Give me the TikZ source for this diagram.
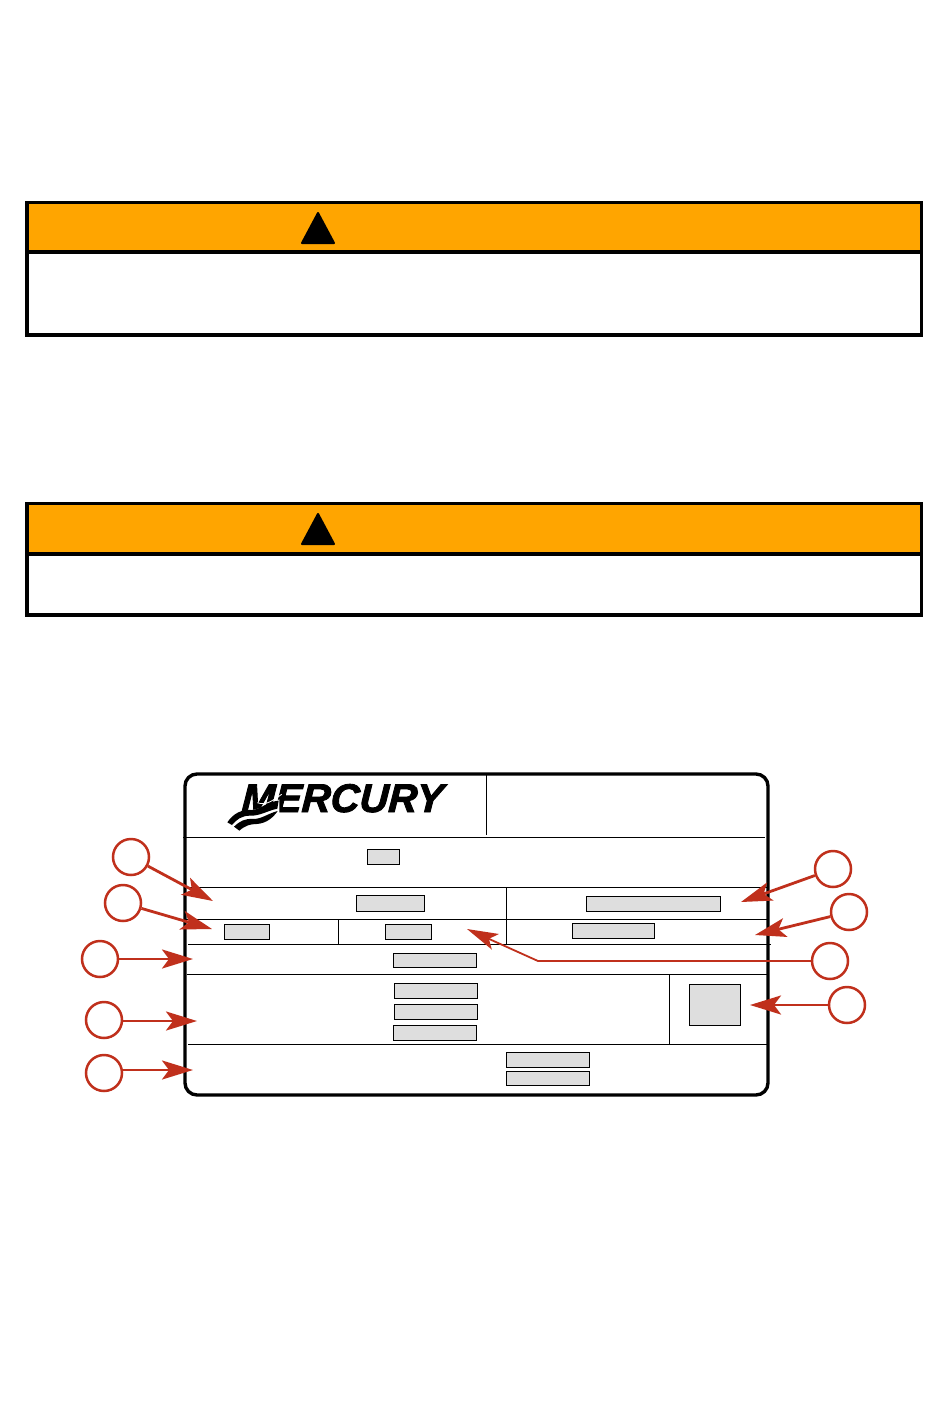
\documentclass[tikz,border=0pt]{standalone}
\usepackage{fontspec}
\setmainfont{Liberation Sans}[BoldItalicFeatures={FakeBold=2.2,FakeSlant=0.06}]
\usetikzlibrary{arrows.meta}
\definecolor{warnorange}{HTML}{FFA500}
\definecolor{callred}{HTML}{C0301C}
\definecolor{fieldgray}{HTML}{DEDEDE}
\tikzset{
  warnbox/.style={draw=black,line width=3.2pt,line join=miter},
  warnhead/.style={fill=warnorange},
  warntri/.style={fill=black,draw=black,line width=2pt,line join=round},
  frame/.style={draw=black,line width=3.4pt,rounded corners=12pt},
  rule/.style={draw=black,line width=1pt},
  field/.style={draw=black,fill=fieldgray,line width=0.8pt,inner sep=0pt,rectangle},
  callout/.style={circle,draw=callred,line width=2.5pt,minimum size=36pt,inner sep=0pt,fill=none},
  pointer/.style={draw=callred,line width=2.8pt,-{Stealth[length=31pt,width=19pt,inset=7pt,fill=callred]}},
  thinpointer/.style={draw=callred,line width=1.8pt,line join=round,-{Stealth[length=31pt,width=17pt,inset=7pt,fill=callred]}}
}
\newcommand{\fieldbox}[5]{\node[field,minimum width=#4pt,minimum height=#5pt] (#1) at (#2,#3) {};}
\begin{document}
\begin{tikzpicture}[x=1pt,y=-1pt]
\useasboundingbox (0,0) rectangle (950,1402);
\fill[white] (0,0) rectangle (950,1402);

% warning boxes
\fill[warnhead] (27,202) rectangle (922,252);
\draw[warnbox] (27,202.5) rectangle (921.5,335);
\draw[warnbox] (27,252) -- (921.5,252);
\draw[warntri] (318,213) -- (334,243) -- (302,243) -- cycle;

\fill[warnhead] (27,503) rectangle (922,554);
\draw[warnbox] (27,503.5) rectangle (921.5,615);
\draw[warnbox] (27,554) -- (921.5,554);
\draw[warntri] (318,514) -- (334,544) -- (302,544) -- cycle;

% plate
\draw[frame] (185,774) rectangle (768,1095);
\draw[rule] (486.5,775) -- (486.5,835);
\draw[rule] (183,837) -- (765,837);
\draw[rule] (186,887.5) -- (768,887.5);
\draw[rule] (186,919.5) -- (768,919.5);
\draw[rule] (188,944.5) -- (771,944.5);
\draw[rule] (187,974.5) -- (768,974.5);
\draw[rule] (188,1044.5) -- (767,1044.5);
\draw[rule] (506.5,888) -- (506.5,944);
\draw[rule] (338.5,920) -- (338.5,944);
\draw[rule] (669.5,975) -- (669.5,1044);

% logo
\node[anchor=base west,inner sep=0pt,font=\fontsize{40}{40}\selectfont\bfseries\itshape] (logo) at (241,812) {MERCURY};
\begin{scope}[shift={(170,760)},scale=1/3]
  \fill[white] (165,190) .. controls (200,145) and (250,165) .. (328,118) -- (328,165) .. controls (280,200) and (240,200) .. (205,222) -- cycle;
  \fill[black] (172,187) .. controls (190,160) and (215,148) .. (245,150) .. controls (270,150) and (290,125) .. (326,122) -- (322,146) .. controls (290,153) and (270,168) .. (240,167) .. controls (215,167) and (200,178) .. (186,195) -- cycle;
  \fill[black] (192,200) .. controls (210,183) and (225,175) .. (250,177) .. controls (275,177) and (295,160) .. (323,153) .. controls (310,172) and (290,190) .. (260,192) .. controls (240,192) and (225,197) .. (208,212) -- cycle;
  \draw[white,line width=0.8pt] (262,128) .. controls (285,136) and (300,128) .. (335,103);
\end{scope}

% fields
\fieldbox{f1}{383}{856.5}{32}{15}
\fieldbox{f2}{390.5}{903}{68.5}{16}
\fieldbox{f3}{653.5}{903.5}{133.5}{15}
\fieldbox{f4}{247}{931.5}{45.5}{15}
\fieldbox{f5}{408.5}{931.5}{46.5}{15}
\fieldbox{f6}{613.5}{930.5}{82.5}{15}
\fieldbox{f7}{435}{960}{83.5}{14}
\fieldbox{f8}{436}{990.5}{83.5}{15}
\fieldbox{f9}{436}{1011.5}{83.5}{15}
\fieldbox{f10}{435}{1032.5}{83.5}{15}
\fieldbox{f11}{548}{1059.5}{83.5}{15}
\fieldbox{f12}{548}{1078}{83.5}{14}
\fieldbox{f13}{715}{1004.5}{51.5}{41}

% callouts
\node[callout] (c1) at (131,857) {};
\node[callout] (c2) at (123,903) {};
\node[callout] (c3) at (100,959) {};
\node[callout] (c4) at (104,1020) {};
\node[callout] (c5) at (104,1073) {};
\node[callout] (c6) at (833,869) {};
\node[callout] (c7) at (849,912) {};
\node[callout] (c8) at (830,961) {};
\node[callout] (c9) at (847,1005) {};

\coordinate (t1) at (213,901);
\coordinate (t2) at (212,929);
\coordinate (t3) at (193,959);
\coordinate (t4) at (197,1021);
\coordinate (t5) at (193,1070);
\coordinate (t6) at (741,902);
\coordinate (t7) at (755,935);
\coordinate (k8) at (538,961);
\coordinate (t8) at (467,929);
\coordinate (t9) at (750,1005);

\draw[pointer] (c1) -- (t1);
\draw[pointer] (c2) -- (t2);
\draw[pointer] (c3) -- (t3);
\draw[pointer] (c4.east |- t4) -- (t4);
\draw[pointer] (c5.east |- t5) -- (t5);
\draw[pointer] (c6) -- (t6);
\draw[pointer] (c7) -- (t7);
\draw[thinpointer] (c8) -- (k8) -- (t8);
\draw[pointer] (c9) -- (t9);
\end{tikzpicture}
\end{document}
